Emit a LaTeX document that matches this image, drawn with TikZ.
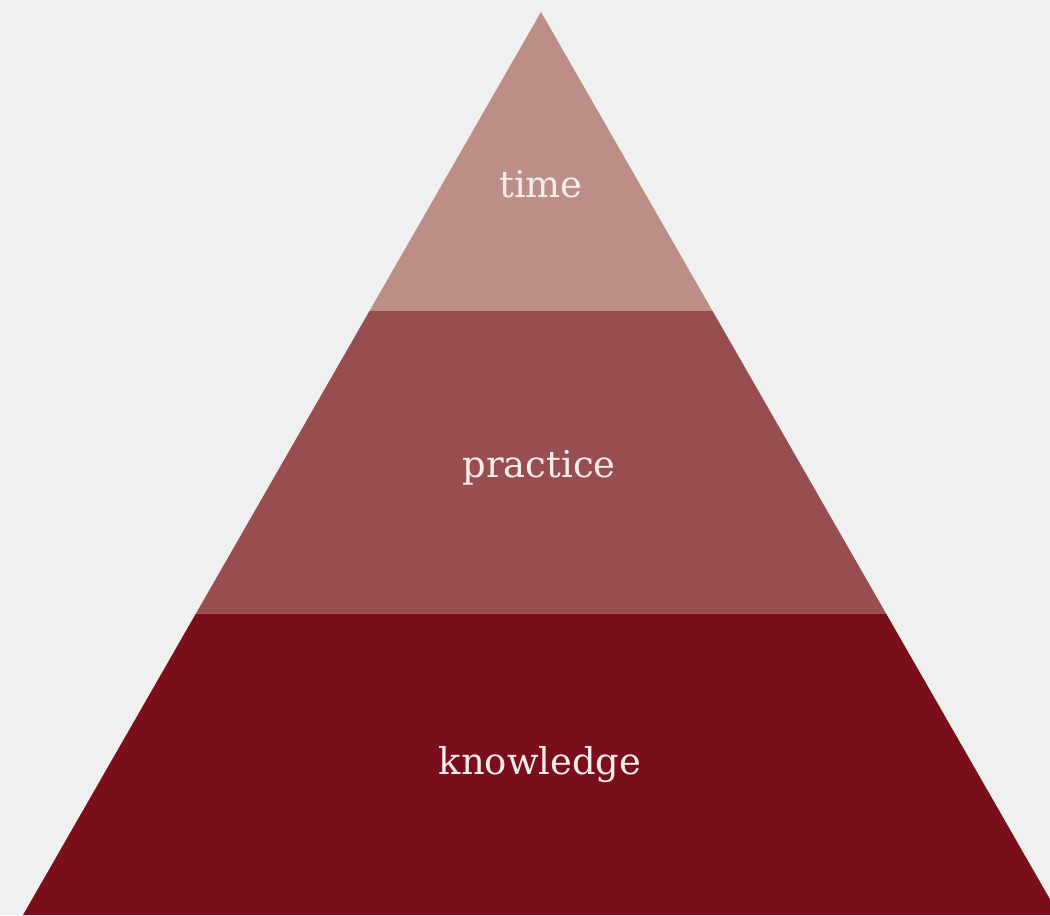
\documentclass[tikz,border=0pt]{standalone}
\usepackage{fontspec}
\setmainfont{DejaVu Serif}
\usetikzlibrary{calc}

\definecolor{bgGray}{HTML}{F0F0F0}
\definecolor{timeRose}{HTML}{BC8E87}
\definecolor{practiceRed}{HTML}{984D50}
\definecolor{knowledgeRed}{HTML}{7A0E1A}
\definecolor{labelWhite}{HTML}{F6EEEA}

\begin{document}
\begin{tikzpicture}[
    x=0.02cm, y=0.02cm,
    band/.style={draw=none},
    label/.style={font=\fontsize{21}{25}\selectfont, text=labelWhite,
                  anchor=base, inner sep=0pt},
]

\fill[bgGray] (0,0) rectangle (1050,915);
\useasboundingbox (0,0) rectangle (1050,915);
\clip (0,0) rectangle (1050,915);

% corners of the pyramid
\coordinate (apex) at (541,903);
\coordinate (BL)   at (23,0);
\coordinate (BR)   at (1059,0);
\coordinate (L1) at ($(apex)!0.331!(BL)$);
\coordinate (R1) at ($(apex)!0.331!(BR)$);
\coordinate (L2) at ($(apex)!0.666!(BL)$);
\coordinate (R2) at ($(apex)!0.666!(BR)$);

\fill[band, knowledgeRed] (L2) -- (R2) -- (BR) -- (BL) -- cycle;
\fill[band, practiceRed]  (L1) -- (R1) -- (R2) -- (L2) -- cycle;
\fill[band, timeRose]     (apex) -- (R1) -- (L1) -- cycle;

\node[label] (time)      at (541,717) {time};
\node[label] (practice)  at (539,437) {practice};
\node[label] (knowledge) at (540,140) {knowledge};
\end{tikzpicture}
\end{document}
